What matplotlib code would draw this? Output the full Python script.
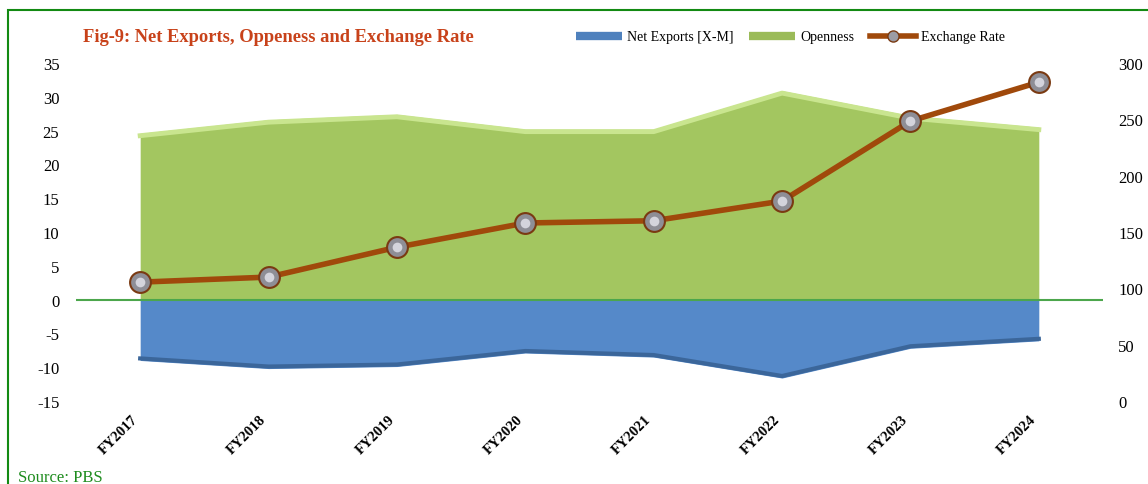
import numpy as np
import matplotlib
matplotlib.use("Agg")
import matplotlib.pyplot as plt
from matplotlib.lines import Line2D
from matplotlib.patches import Rectangle

# data
years = ["FY2017", "FY2018", "FY2019", "FY2020", "FY2021", "FY2022", "FY2023", "FY2024"]
net_exports = [-9.0, -10.2, -9.9, -7.9, -8.5, -11.6, -7.2, -6.1]
openness = [24.6, 26.6, 27.4, 25.2, 25.2, 30.9, 27.2, 25.5]
exchange_rate = [105.5, 110.0, 136.5, 158.0, 160.0, 177.5, 248.5, 283.0]

left_ticks = list(range(-15, 36, 5))
right_ticks = list(range(0, 301, 50))

plt.rcParams['font.family'] = ['Liberation Serif', 'DejaVu Serif']

fig = plt.figure(figsize=(11.48, 4.85), dpi=100)
ax = fig.add_axes([0.0662, 0.1711, 0.8946, 0.6969])
x = np.arange(len(years))

# areas (with a light/dark edge to hint at the bevel)
ax.fill_between(x, 0, openness, color='#A3C660', lw=0, zorder=1)
ax.plot(x, np.array(openness) - 0.35, color='#C9E58F', lw=3.5, zorder=2,
        solid_joinstyle='round')
ax.fill_between(x, 0, net_exports, color='#5589C9', lw=0, zorder=1)
ax.plot(x, np.array(net_exports) + 0.3, color='#3B669A', lw=3, zorder=2,
        solid_joinstyle='round')
ax.axhline(0, color='#4CA64C', lw=1.5, zorder=3)

ax.set_xlim(-0.5, len(years) - 0.5)
ax.set_ylim(-15, 35)
ax.set_yticks(left_ticks)
ax.set_yticklabels([str(v) for v in left_ticks], fontsize=12)
ax.set_xticks(x)
ax.set_xticklabels(years, rotation=45, ha='right', fontsize=10.5, fontweight='bold')
ax.tick_params(axis='both', length=0)
ax.tick_params(axis='y', pad=12)
ax.tick_params(axis='x', pad=8)
for s in ax.spines.values():
    s.set_visible(False)

ax2 = ax.twinx()
ax2.plot(x, exchange_rate, color='#A0490B', lw=4, zorder=4,
         marker='o', markersize=15, markerfacecolor='#8E8E96',
         markeredgecolor='#7A3A12', markeredgewidth=1.5)
ax2.plot(x, exchange_rate, ls='none', marker='o', markersize=7,
         markerfacecolor='#D4D4DC', markeredgewidth=0, zorder=5)
ax2.set_ylim(0, 300)
ax2.set_yticks(right_ticks)
ax2.set_yticklabels([str(v) for v in right_ticks], fontsize=12)
ax2.tick_params(axis='y', length=0, pad=11)
for s in ax2.spines.values():
    s.set_visible(False)

# title
fig.text(278 / 1148, 1 - 37 / 485, "Fig-9: Net Exports, Oppeness and Exchange Rate",
         ha='center', va='center', fontsize=13.3, fontweight='bold', color='#C8421A')

# legend
handles = [
    Line2D([], [], color='#4F81BD', lw=6, solid_capstyle='butt'),
    Line2D([], [], color='#9BBB59', lw=6, solid_capstyle='butt'),
    Line2D([], [], color='#A0490B', lw=4, marker='o', markersize=8,
           markerfacecolor='#9C9CA4', markeredgecolor='#7A3A12'),
]
fig.legend(handles, ["Net Exports [X-M]", "Openness", "Exchange Rate"],
           loc='center left', bbox_to_anchor=(576 / 1148, 1 - 38 / 485),
           ncol=3, frameon=False, fontsize=10, handlelength=3.3,
           handletextpad=0.4, columnspacing=1.1, borderaxespad=0, borderpad=0)

# source note and green frame
fig.text(18 / 1148, 1 - 478 / 485, "Source: PBS", ha='left', va='center',
         fontsize=12, color='#1E8C1E')
fig.patches.append(Rectangle((8 / 1148, -0.05), 1.2, 1 - 11 / 485 + 0.05,
                             transform=fig.transFigure, fill=False,
                             edgecolor='#138A13', lw=1.5))

fig.savefig("out.png", dpi=100)
